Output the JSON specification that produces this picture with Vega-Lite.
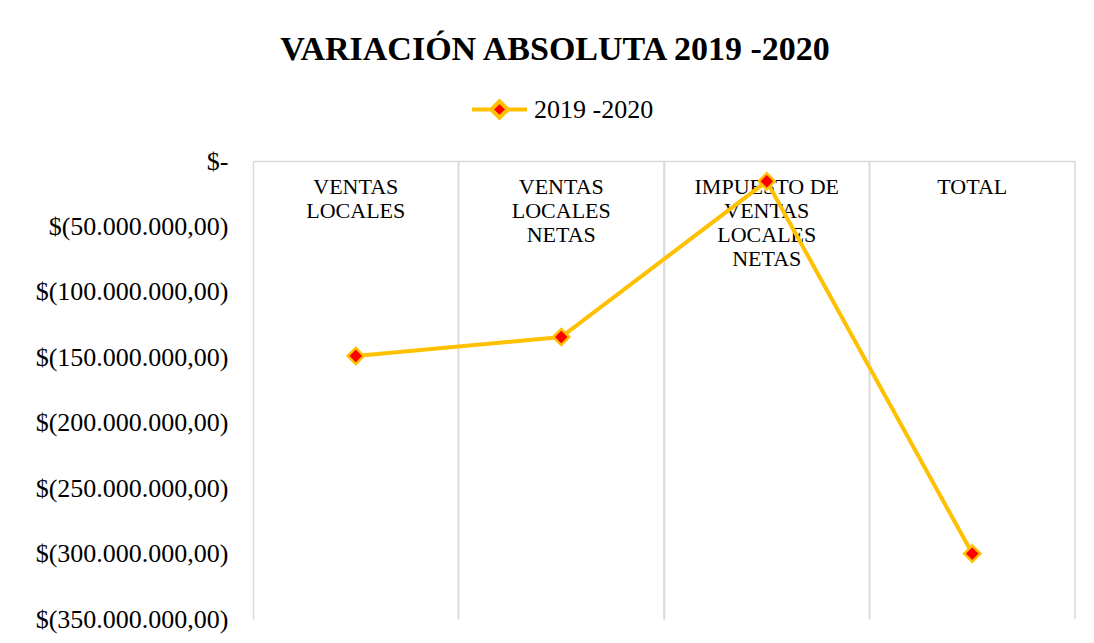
{
  "$schema": "https://vega.github.io/schema/vega-lite/v6.json",
  "autosize": {"type": "none"},
  "padding": {"left": 253, "top": 161, "right": 19, "bottom": 24},
  "width": 822,
  "height": 458,
  "background": "white",
  "config": {"view": {"stroke": null}},
  "title": {
    "text": "VARIACIÓN ABSOLUTA 2019 -2020",
    "font": "Liberation Serif",
    "fontSize": 34,
    "fontWeight": "bold",
    "color": "#000000",
    "anchor": "middle",
    "dx": -109,
    "offset": 13
  },
  "data": {
    "values": [
      {"categoria": "VENTAS LOCALES", "etiqueta": "VENTAS\nLOCALES", "serie": "2019 -2020", "valor": -149000000},
      {"categoria": "VENTAS LOCALES NETAS", "etiqueta": "VENTAS\nLOCALES\nNETAS", "serie": "2019 -2020", "valor": -134500000},
      {"categoria": "IMPUESTO DE VENTAS LOCALES NETAS", "etiqueta": "IMPUESTO DE\nVENTAS\nLOCALES\nNETAS", "serie": "2019 -2020", "valor": -15500000},
      {"categoria": "TOTAL", "etiqueta": "TOTAL", "serie": "2019 -2020", "valor": -300000000}
    ]
  },
  "encoding": {
    "x": {
      "field": "categoria",
      "type": "nominal",
      "sort": null,
      "scale": {"paddingInner": 0, "paddingOuter": 0},
      "axis": {
        "orient": "top",
        "title": null,
        "labels": false,
        "ticks": false,
        "domain": true,
        "domainColor": "#d9d9d9",
        "domainWidth": 1.5,
        "grid": true,
        "gridColor": "#d9d9d9",
        "gridWidth": 1.5,
        "bandPosition": 0
      }
    }
  },
  "layer": [
    {
      "mark": {"type": "rule", "color": "#d9d9d9", "strokeWidth": 1.5},
      "encoding": {
        "x": {"field": "categoria", "type": "nominal", "sort": null, "bandPosition": 1}
      }
    },
    {
      "mark": {
        "type": "text",
        "font": "Liberation Serif",
        "fontSize": 22,
        "color": "#000000",
        "baseline": "top",
        "align": "center",
        "lineBreak": "\n",
        "lineHeight": 24,
        "dy": 16
      },
      "encoding": {
        "y": {"datum": 0, "type": "quantitative"},
        "text": {"field": "etiqueta"}
      }
    },
    {
      "mark": {"type": "line", "strokeWidth": 4},
      "encoding": {
        "y": {
          "field": "valor",
          "type": "quantitative",
          "scale": {"domain": [-350000000, 0], "nice": false, "zero": false},
          "axis": {
            "title": null,
            "values": [0, -50000000, -100000000, -150000000, -200000000, -250000000, -300000000, -350000000],
            "labelExpr": "datum.value == 0 ? '$-' : '$(' + format(-datum.value / 1000000, 'd') + '.000.000,00)'",
            "labelFont": "Liberation Serif",
            "labelFontSize": 26,
            "labelColor": "#000000",
            "labelPadding": 25,
            "labelLimit": 0,
            "domain": false,
            "ticks": false,
            "grid": false
          }
        },
        "color": {
          "field": "serie",
          "type": "nominal",
          "scale": {"range": ["#FFC000"]},
          "legend": {
            "title": null,
            "orient": "none",
            "legendX": 217,
            "legendY": -81,
            "direction": "horizontal",
            "symbolType": "M-1,0L-0.3,0L0,-0.3L0.3,0L1,0L0.3,0L0,0.3L-0.3,0Z",
            "symbolSize": 3025,
            "symbolStrokeWidth": 4,
            "labelFont": "Liberation Serif",
            "labelFontSize": 26,
            "labelColor": "#000000",
            "labelOffset": 5,
            "encode": {
              "symbols": {
                "update": {
                  "fill": {"value": "#FF0000"},
                  "stroke": {"value": "#FFC000"},
                  "strokeWidth": {"value": 4},
                  "opacity": {"value": 1}
                }
              }
            }
          }
        }
      }
    },
    {
      "mark": {"type": "point", "shape": "diamond", "size": 260, "filled": true, "fill": "#FF0000", "stroke": "#FFC000", "strokeWidth": 2.5, "opacity": 1},
      "encoding": {
        "y": {"field": "valor", "type": "quantitative"}
      }
    }
  ]
}
